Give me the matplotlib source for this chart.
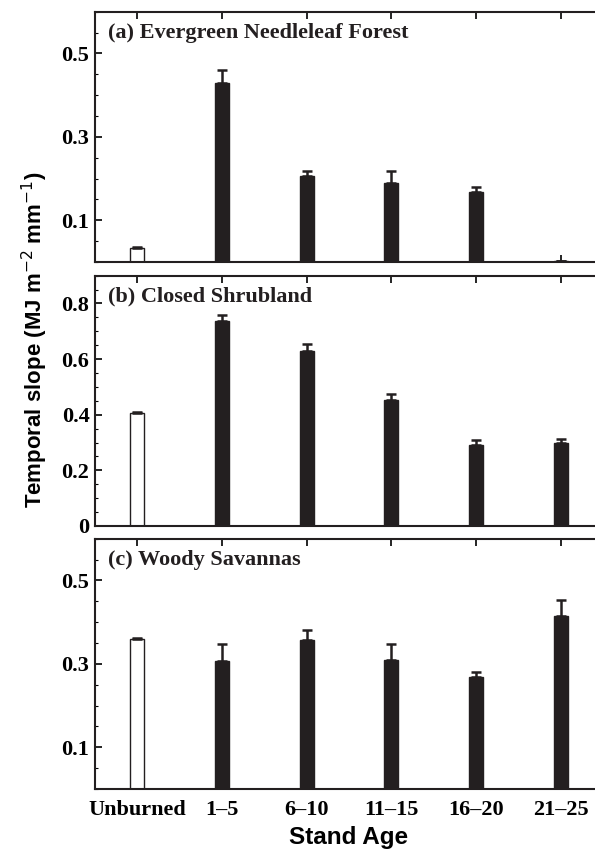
import matplotlib
matplotlib.use('Agg')
import matplotlib.pyplot as plt
from matplotlib.ticker import MultipleLocator, FixedLocator

# Stand age classes (x axis)
categories = ["Unburned", "1\u20135", "6\u201310", "11\u201315", "16\u201320", "21\u201325"]

# Panel titles
titles = ["(a) Evergreen Needleleaf Forest", "(b) Closed Shrubland", "(c) Woody Savannas"]

# Temporal slope means and (upper) errors
enf_vals = [0.033, 0.429, 0.205, 0.189, 0.167, 0.002]
enf_err = [0.002, 0.031, 0.014, 0.030, 0.012, 0.001]
shrub_vals = [0.405, 0.737, 0.630, 0.452, 0.290, 0.297]
shrub_err = [0.003, 0.023, 0.025, 0.021, 0.019, 0.014]
savanna_vals = [0.360, 0.307, 0.357, 0.309, 0.269, 0.415]
savanna_err = [0.003, 0.040, 0.023, 0.039, 0.011, 0.037]

# y ranges and ticks per panel
ylims = [(0, 0.6), (0, 0.9), (0, 0.6)]
yticks = [[0.1, 0.3, 0.5], [0, 0.2, 0.4, 0.6, 0.8], [0.1, 0.3, 0.5]]
yticklabels = [["0.1", "0.3", "0.5"], ["0", "0.2", "0.4", "0.6", "0.8"], ["0.1", "0.3", "0.5"]]

all_vals = [enf_vals, shrub_vals, savanna_vals]
all_err = [enf_err, shrub_err, savanna_err]

serif = "Liberation Serif"
sans = "Liberation Sans"
dark = "#231f20"

fig = plt.figure(figsize=(5.95, 8.5), dpi=100)

left = 0.1597
width = 0.854
bottoms = [0.6918, 0.3812, 0.0718]
height = 0.2945

x = list(range(1, len(categories) + 1))
axes = []
for i in range(3):
    ax = fig.add_axes([left, bottoms[i], width, height])
    axes.append(ax)
    colors = ["white"] + [dark] * (len(categories) - 1)
    ax.bar(x, all_vals[i], width=0.165, color=colors, edgecolor=dark, linewidth=1.0, zorder=2)
    ax.errorbar(x, all_vals[i], yerr=[[0] * len(x), all_err[i]], fmt="none",
                ecolor=dark, elinewidth=1.8, capsize=3.5, capthick=1.8, zorder=3)
    ax.set_xlim(0.5, 6.5)
    ax.set_ylim(*ylims[i])
    ax.yaxis.set_major_locator(FixedLocator(yticks[i]))
    ax.yaxis.set_minor_locator(MultipleLocator(0.05))
    ax.set_yticklabels(yticklabels[i], fontfamily=serif, fontweight="bold", fontsize=16)
    ax.set_xticks(x)
    if i == 2:
        ax.set_xticklabels(categories, fontfamily=serif, fontweight="bold", fontsize=16)
    else:
        ax.set_xticklabels([])
    ax.tick_params(axis="both", which="major", direction="in", length=5, width=1.2,
                   top=True, right=False, pad=4)
    ax.tick_params(axis="y", which="minor", direction="in", length=2.5, width=0.8, right=False)
    ax.tick_params(axis="x", which="major", pad=8)
    for sp in ax.spines.values():
        sp.set_linewidth(1.5)
        sp.set_color(dark)
    ax.text(0.026, 0.915, titles[i], transform=ax.transAxes, fontfamily=serif,
            fontweight="bold", fontsize=16, va="center", ha="left", color=dark)

fig.text(0.058, 0.600, "Temporal slope (MJ m$^{-2}$ mm$^{-1}$)", rotation=90,
         fontfamily=sans, fontweight="bold", fontsize=16, va="center", ha="center")
fig.text(0.586, 0.015, "Stand Age", fontfamily=sans, fontweight="bold", fontsize=17.5,
         va="center", ha="center")

fig.savefig("out.png", dpi=100)
